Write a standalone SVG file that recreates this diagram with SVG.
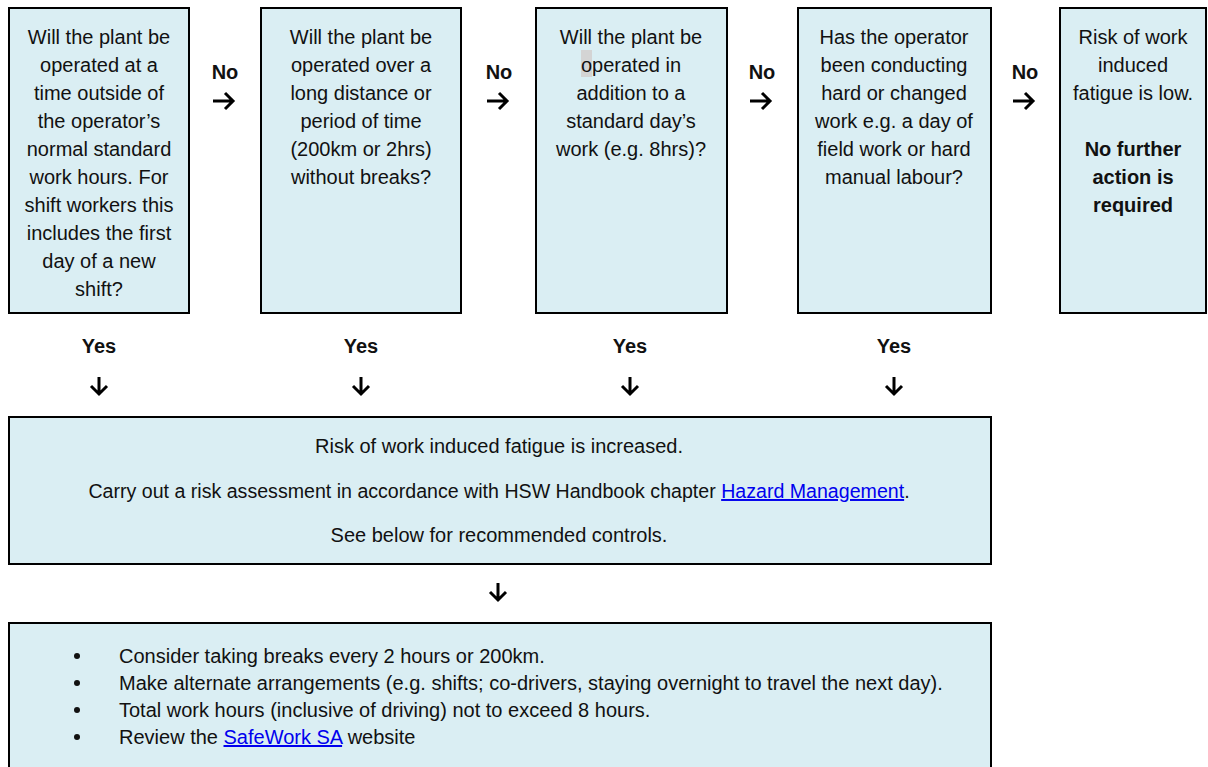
<svg xmlns="http://www.w3.org/2000/svg" width="1208" height="767" viewBox="0 0 1208 767">
<style>
.box{fill:#DAEEF3;stroke:#000;stroke-width:2}
.t{font-family:"Liberation Sans",Arial,sans-serif;font-size:20px;fill:#111;text-anchor:middle}
.b{font-weight:bold}
.l{fill:#0000EE;text-decoration:underline}
.a{fill:none;stroke:#000;stroke-width:3;stroke-linecap:butt;stroke-linejoin:miter}
.tl{font-family:"Liberation Sans",Arial,sans-serif;font-size:20px;fill:#111}
</style>
<rect width="1208" height="767" fill="#fff"/>
<g id="q1">
<rect class="box" x="9" y="8" width="180" height="305"/>
<text class="t"><tspan x="99" y="44">Will the plant be</tspan><tspan x="99" y="72">operated at a</tspan><tspan x="99" y="100">time outside of</tspan><tspan x="99" y="128">the operator’s</tspan><tspan x="99" y="156">normal standard</tspan><tspan x="99" y="184">work hours. For</tspan><tspan x="99" y="212">shift workers this</tspan><tspan x="99" y="240">includes the first</tspan><tspan x="99" y="268">day of a new</tspan><tspan x="99" y="296">shift?</tspan></text>
</g>
<g id="q2">
<rect class="box" x="261" y="8" width="200" height="305"/>
<text class="t"><tspan x="361" y="44">Will the plant be</tspan><tspan x="361" y="72">operated over a</tspan><tspan x="361" y="100">long distance or</tspan><tspan x="361" y="128">period of time</tspan><tspan x="361" y="156">(200km or 2hrs)</tspan><tspan x="361" y="184">without breaks?</tspan></text>
</g>
<g id="q3">
<rect class="box" x="536" y="8" width="191" height="305"/>
<rect x="581" y="50" width="11" height="27" fill="#D4D4D4"/>
<text class="t"><tspan x="631" y="44">Will the plant be</tspan><tspan x="631" y="72">operated in</tspan><tspan x="631" y="100">addition to a</tspan><tspan x="631" y="128">standard day’s</tspan><tspan x="631" y="156">work (e.g. 8hrs)?</tspan></text>
</g>
<g id="q4">
<rect class="box" x="798" y="8" width="193" height="305"/>
<text class="t"><tspan x="894" y="44">Has the operator</tspan><tspan x="894" y="72">been conducting</tspan><tspan x="894" y="100">hard or changed</tspan><tspan x="894" y="128">work e.g. a day of</tspan><tspan x="894" y="156">field work or hard</tspan><tspan x="894" y="184">manual labour?</tspan></text>
</g>
<g id="low">
<rect class="box" x="1060" y="8" width="146" height="305"/>
<text class="t"><tspan x="1133" y="44">Risk of work</tspan><tspan x="1133" y="72">induced</tspan><tspan x="1133" y="100">fatigue is low.</tspan><tspan class="b" x="1133" y="156">No further</tspan><tspan class="b" x="1133" y="184">action is</tspan><tspan class="b" x="1133" y="212">required</tspan></text>
</g>
<g id="increased">
<rect class="box" x="9" y="417" width="982" height="147"/>
<text class="t" x="499" y="453">Risk of work induced fatigue is increased.</text>
<text class="t" x="499" y="498" style="font-size:19.6px">Carry out a risk assessment in accordance with HSW Handbook chapter <tspan class="l">Hazard Management</tspan>.</text>
<text class="t" x="499" y="542">See below for recommended controls.</text>
</g>
<g id="controls">
<rect class="box" x="9" y="623" width="982" height="200"/>
<g fill="#111"><circle cx="77" cy="656" r="3"/><circle cx="77" cy="683" r="3"/><circle cx="77" cy="710" r="3"/><circle cx="77" cy="737" r="3"/></g>
<text class="tl"><tspan x="119" y="663">Consider taking breaks every 2 hours or 200km.</tspan><tspan x="119" y="690">Make alternate arrangements (e.g. shifts; co-drivers, staying overnight to travel the next day).</tspan><tspan x="119" y="717">Total work hours (inclusive of driving) not to exceed 8 hours.</tspan><tspan x="119" y="744">Review the <tspan class="l">SafeWork SA</tspan> website</tspan></text>
</g>
<g id="connectors">
<g class="t b"><text x="225" y="79">No</text><text x="499" y="79">No</text><text x="762" y="79">No</text><text x="1025" y="79">No</text>
<text x="99" y="353">Yes</text><text x="361" y="353">Yes</text><text x="630" y="353">Yes</text><text x="894" y="353">Yes</text></g>
<g class="a">
<path d="M213,101 H233 M225,93 L233,101 L225,109"/>
<path d="M487,101 H507 M499,93 L507,101 L499,109"/>
<path d="M750,101 H770 M762,93 L770,101 L762,109"/>
<path d="M1013,101 H1033 M1025,93 L1033,101 L1025,109"/>
<path d="M99,377 V394 M91,386 L99,394 L107,386"/>
<path d="M361,377 V394 M353,386 L361,394 L369,386"/>
<path d="M630,377 V394 M622,386 L630,394 L638,386"/>
<path d="M894,377 V394 M886,386 L894,394 L902,386"/>
<path d="M498,583 V600 M490,592 L498,600 L506,592"/>
</g>
</g>
</svg>
